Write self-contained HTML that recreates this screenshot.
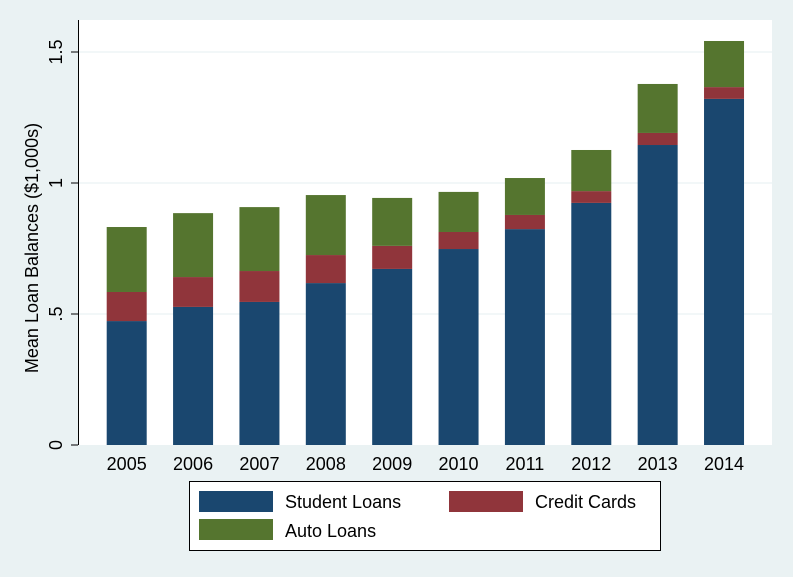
<!DOCTYPE html>
<html><head><meta charset="utf-8"><style>
body{margin:0;background:#eaf2f3;}
svg{display:block;font-family:"Liberation Sans",sans-serif;}
</style></head><body>
<svg id="chart" width="793" height="577">
<rect x="0" y="0" width="793" height="577" fill="#eaf2f3"/>
<rect x="78" y="20" width="694" height="425" fill="#ffffff"/>
<g id="grid"></g><g id="bars"></g><g id="axes"></g>
<text transform="translate(38,248) rotate(-90)" text-anchor="middle" font-size="18" fill="#000">Mean Loan Balances ($1,000s)</text>
<g>
<rect x="189.5" y="481.5" width="471" height="69" fill="#fff" stroke="#000" stroke-width="1"/>
<rect x="199" y="491" width="74" height="21" fill="#1a476f"/>
<text x="285" y="508" font-size="18">Student Loans</text>
<rect x="449" y="491" width="74" height="21" fill="#90353b"/>
<text x="535" y="508" font-size="18">Credit Cards</text>
<rect x="199" y="519" width="74" height="21" fill="#55752f"/>
<text x="285" y="537" font-size="18">Auto Loans</text>
</g>
</svg>
<script>
const years=["2005","2006","2007","2008","2009","2010","2011","2012","2013","2014"];
const studentLoans=[0.473,0.527,0.546,0.618,0.672,0.748,0.824,0.924,1.145,1.321];
const creditCards=[0.111,0.114,0.118,0.107,0.088,0.065,0.054,0.045,0.046,0.045];
const autoLoans=[0.248,0.244,0.244,0.229,0.183,0.153,0.141,0.157,0.187,0.176];
const yTicks=[0,0.5,1,1.5];
const yTickLabels=["0",".5","1","1.5"];
const ns="http://www.w3.org/2000/svg";
const y=v=>445-v*262;
const x=i=>126.7+i*66.37;
const bw=40;
function mk(tag,attrs,parent){const e=document.createElementNS(ns,tag);for(const k in attrs)e.setAttribute(k,attrs[k]);parent.appendChild(e);return e;}
const grid=document.getElementById('grid'),bars=document.getElementById('bars'),axes=document.getElementById('axes');
yTicks.forEach((t,i)=>{
 if(t>0){const g=mk('line',{x1:78,x2:772,y1:y(t),y2:y(t),stroke:'#eaf2f3','stroke-width':1.2},grid);
 
 }
 const tk=mk('line',{x1:71,x2:78,y1:y(t),y2:y(t),stroke:'#000'},axes);
 
 
 const lb=mk('text',{transform:`translate(62,${y(t)}) rotate(-90)`,'text-anchor':'middle','font-size':18},axes);
 lb.textContent=yTickLabels[i];
 
 
});
const series=[[studentLoans,'#1a476f','student'],[creditCards,'#90353b','credit'],[autoLoans,'#55752f','auto']];
years.forEach((yr,i)=>{
 let base=0;
 series.forEach(([arr,col,nm])=>{
  const top=base+arr[i];
  const r=mk('rect',{x:x(i)-bw/2,y:y(top),width:bw,height:y(base)-y(top),fill:col},bars);
  
  
  base=top;
 });
 const lb=mk('text',{x:x(i),y:470,'text-anchor':'middle','font-size':18},axes);
 lb.textContent=yr;
 
 
});
const ax=mk('line',{x1:78.5,x2:78.5,y1:20,y2:445,stroke:'#000'},axes);


</script>
</body></html>
